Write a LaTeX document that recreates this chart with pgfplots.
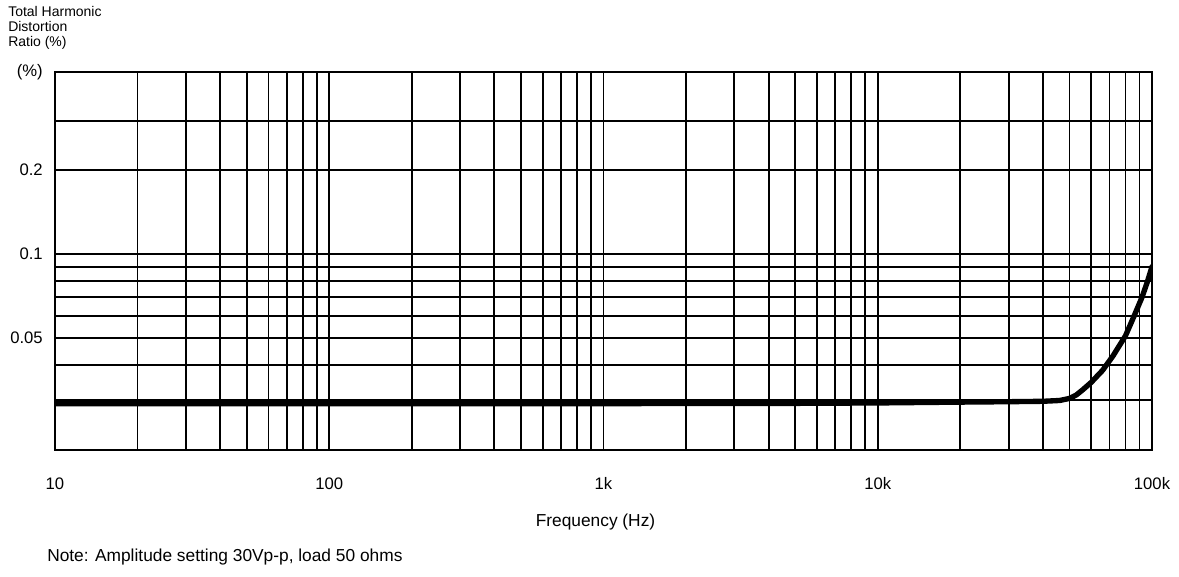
\documentclass[border=0pt]{standalone}
\usepackage{pgfplots}
\pgfplotsset{compat=1.18}
\usepackage{fontspec}
\setmainfont{Liberation Sans}
\begin{document}
\begin{tikzpicture}
\useasboundingbox (-41.25pt,-95.25pt) rectangle (843pt,337.5pt);
\begin{axis}[
  at={(0,0)}, anchor=south west,
  scale only axis,
  width=822.75pt, height=283.5pt,
  xmode=log, ymode=log,
  xmin=10, xmax=100000,
  ymin=0.0198, ymax=0.449,
  xtick={10,100,1000,10000,100000},
  xticklabels={10,100,1k,10k,100k},
  minor xtick={20,30,40,50,60,70,80,90,200,300,400,500,600,700,800,900,2000,3000,4000,5000,6000,7000,8000,9000,20000,30000,40000,50000,60000,70000,80000,90000},
  ytick={0.05,0.1,0.2,0.449},
  yticklabels={0.05,0.1,0.2,(\%)},
  minor ytick={0.03,0.04,0.06,0.07,0.08,0.09,0.3},
  major tick length=0pt, minor tick length=0pt,
  xmajorgrids, xminorgrids, ymajorgrids, yminorgrids,
  major grid style={black, line width=1.35pt},
  minor grid style={black, line width=1.35pt},
  axis line style={black, line width=1.6pt},
  tick label style={font=\fontsize{12.5}{15}\selectfont},
  xticklabel style={anchor=base, yshift=-29.25pt},
  yticklabel style={anchor=east, inner sep=0pt, xshift=-9pt},
  xlabel={Frequency (Hz)},
  xlabel style={at={(axis description cs:0.5,0)}, anchor=center, yshift=-54pt, xshift=-6pt, font=\fontsize{13}{15}\selectfont},
  clip=true,
]
\addplot[black, line width=4pt, line join=round, line cap=round] coordinates {
(10,0.0290) (20,0.0290) (50,0.0290) (100,0.0290) (200,0.0290) (500,0.0290)
(1000,0.0290) (2000,0.0291) (5000,0.0291) (10000,0.0292) (20000,0.0294)
(30000,0.0295) (40000,0.0296) (46000,0.0298) (50000,0.0303) (53000,0.0312)
(56000,0.0326) (60000,0.0346) (66000,0.0382) (72000,0.0430) (80000,0.0508)
(86000,0.0598) (92000,0.0700) (96000,0.0790) (100000,0.0900)
};
\end{axis}
\node[anchor=north west, align=left, inner sep=0pt, font=\fontsize{10.5}{11.25}\selectfont] at (-35.25pt,333pt) {Total Harmonic\\Distortion\\Ratio (\%)};
\node[anchor=west, inner sep=0pt, font=\fontsize{13}{15}\selectfont] at (-6pt,-80.25pt) {Note: Amplitude setting 30Vp-p, load 50 ohms};
\end{tikzpicture}
\end{document}
